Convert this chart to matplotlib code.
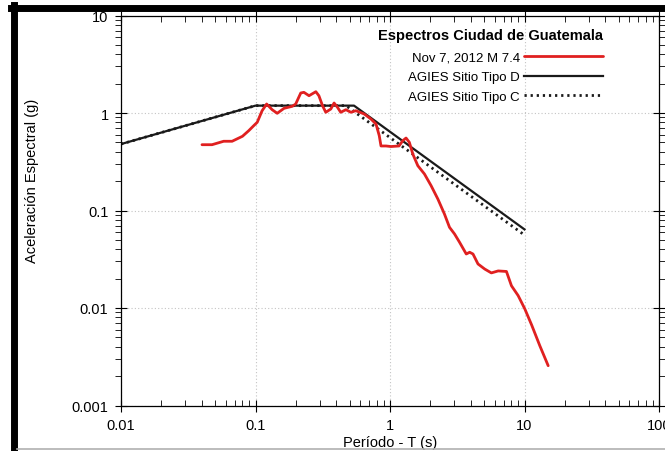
import matplotlib
matplotlib.use("Agg")
import matplotlib.pyplot as plt
from matplotlib.lines import Line2D
from matplotlib.ticker import LogLocator, NullFormatter, FixedLocator, FixedFormatter

plt.rcParams['font.family'] = ['Liberation Sans', 'DejaVu Sans']

# registro Nov 7, 2012
red_T = [0.040, 0.0475, 0.058, 0.067, 0.080, 0.089, 0.097, 0.103, 0.112, 0.121,
         0.133, 0.145, 0.163, 0.188, 0.199, 0.217, 0.229, 0.250, 0.281, 0.296,
         0.315, 0.333, 0.363, 0.384, 0.407, 0.430, 0.470, 0.512, 0.557, 0.643,
         0.721, 0.787, 0.832, 0.857, 0.933, 1.017, 1.167, 1.244, 1.316, 1.393,
         1.477, 1.610, 1.803, 2.02, 2.27, 2.54, 2.77, 3.02, 3.29, 3.69,
         3.91, 4.14, 4.51, 5.06, 5.67, 6.37, 7.34, 8.0, 8.97, 10.05,
         11.3, 13.0, 15.0]
red_Sa = [0.473, 0.473, 0.513, 0.513, 0.577, 0.658, 0.741, 0.803, 1.056, 1.237,
          1.081, 0.993, 1.117, 1.172, 1.237, 1.604, 1.630, 1.504, 1.654, 1.504,
          1.188, 1.017, 1.099, 1.266, 1.144, 1.017, 1.081, 1.017, 1.056, 0.977,
          0.868, 0.771, 0.585, 0.459, 0.459, 0.453, 0.459, 0.520, 0.554, 0.500,
          0.380, 0.288, 0.237, 0.180, 0.131, 0.092, 0.0672, 0.0574, 0.0472, 0.0358,
          0.0373, 0.0358, 0.0283, 0.0251, 0.0229, 0.0240, 0.0237, 0.0169, 0.0134, 0.0098,
          0.0067, 0.0041, 0.00256]

# espectros de diseño AGIES
d_T = [0.01, 0.1, 0.54, 10]
d_Sa = [0.48, 1.19, 1.19, 0.064]
c_T = [0.01, 0.1, 0.47, 10]
c_Sa = [0.48, 1.19, 1.19, 0.056]

x_ticks = [0.01, 0.1, 1, 10, 100]
x_labels = ["0.01", "0.1", "1", "10", "100"]
y_ticks = [0.001, 0.01, 0.1, 1, 10]
y_labels = ["0.001", "0.01", "0.1", "1", "10"]

red = "#e02020"

fig = plt.figure(figsize=(6.65, 4.52), dpi=100)
ax = fig.add_axes([121/665, 1 - 406.5/452, 538/665, 390/452])

ax.plot(d_T, d_Sa, color="#1a1a1a", lw=1.6, label="AGIES Sitio Tipo D")
ax.plot(c_T, c_Sa, color="#1a1a1a", lw=2.0, ls=(0, (0.8, 1.4)), label="AGIES Sitio Tipo C")
ax.plot(red_T, red_Sa, color=red, lw=2.0, solid_joinstyle="round",
        solid_capstyle="round", label="Nov 7, 2012 M 7.4")

ax.set_xscale("log")
ax.set_yscale("log")
ax.set_xlim(0.01, 100)
ax.set_ylim(0.001, 10)

ax.xaxis.set_major_locator(FixedLocator(x_ticks))
ax.xaxis.set_major_formatter(FixedFormatter(x_labels))
ax.yaxis.set_major_locator(FixedLocator(y_ticks))
ax.yaxis.set_major_formatter(FixedFormatter(y_labels))
ax.xaxis.set_minor_locator(LogLocator(base=10, subs=range(2, 10), numticks=20))
ax.yaxis.set_minor_locator(LogLocator(base=10, subs=range(2, 10), numticks=20))
ax.xaxis.set_minor_formatter(NullFormatter())
ax.yaxis.set_minor_formatter(NullFormatter())

ax.tick_params(which="major", direction="inout", length=8, width=0.8,
               top=True, right=True, labelsize=10.5, pad=5)
ax.tick_params(which="minor", direction="in", length=4, width=0.6,
               top=True, right=True)
ax.tick_params(axis="y", which="minor", direction="out", length=4)
for s in ax.spines.values():
    s.set_linewidth(0.9)

ax.grid(True, which="major", color="#c4c4c4", ls=(0, (1, 2)), lw=0.8)

ax.set_xlabel("Período - T (s)", fontsize=10.5, labelpad=2)
ax.set_ylabel("Aceleración Espectral (g)", fontsize=10.5)
ax.yaxis.set_label_coords(-0.152, 0.578)

h, l = ax.get_legend_handles_labels()
order = [2, 0, 1]
leg = ax.legend([h[i] for i in order], [l[i] for i in order],
                title="Espectros Ciudad de Guatemala",
                title_fontproperties={"weight": "bold", "size": 10.5},
                fontsize=9.5, markerfirst=False, frameon=False,
                loc="upper right", bbox_to_anchor=(0.896, 0.968),
                borderpad=0, borderaxespad=0, handlelength=6,
                handletextpad=0.3, labelspacing=0.55, alignment="right")
leg._legend_box.sep = 7

# marco de la imagen
fig.add_artist(Line2D([13.5/665, 13.5/665], [0, 1 - 6/452], color="black", lw=5))
fig.add_artist(Line2D([11/665, 1], [1 - 8.5/452, 1 - 8.5/452], color="black", lw=5))
fig.add_artist(Line2D([17/665, 1], [1 - 450/452, 1 - 450/452], color="#b0b0b0", lw=1.2))

fig.savefig("out.png", dpi=100)
